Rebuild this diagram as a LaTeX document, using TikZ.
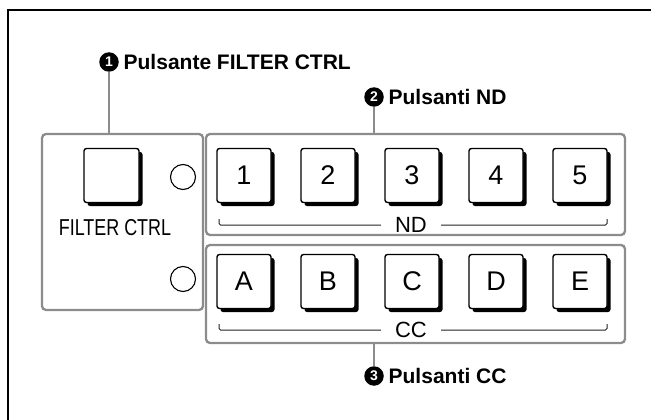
\documentclass[tikz,border=0pt]{standalone}
\usepackage{fontspec}
\setmainfont{Liberation Sans}
\newfontfamily\narrowfont[FakeStretch=0.78]{Liberation Sans}
\usepackage{tikz}
\usetikzlibrary{positioning,shadows}
\definecolor{pgray}{HTML}{8C8C8C}
\definecolor{pline}{HTML}{222222}
\tikzset{
  panel/.style={draw=pgray, line width=2.3pt, rounded corners=4pt, inner sep=0pt},
  key/.style={draw=black, fill=white, line width=1.4pt, rounded corners=2.5pt, inner sep=0pt,
              minimum width=54pt, minimum height=54pt, font=\fontsize{27}{27}\selectfont,
              general shadow={fill=black, shadow xshift=3.5pt, shadow yshift=-3.5pt}},
  lamp/.style={circle, draw=black, line width=1.1pt, minimum size=25pt, inner sep=0pt},
  grp/.style={fill=white, inner xsep=14pt, inner ysep=0pt, font=\fontsize{22}{22}\selectfont},
  bracket/.style={draw=pline, line width=1pt, rounded corners=1.5pt},
  num/.style={circle, fill=black, text=white, inner sep=0pt, minimum size=19.5pt,
              font=\bfseries\fontsize{14}{14}\selectfont},
  call/.style={inner sep=0pt, font=\bfseries\fontsize{21}{21}\selectfont},
  leader/.style={draw=pgray, line width=2.3pt},
  frame/.style={draw=black, line width=2pt},
}
\begin{document}
\begin{tikzpicture}[x=1pt, y=-1pt]
  \useasboundingbox (0,0) rectangle (651,420);
  \draw[frame] (651,10.5) -| (7.5,420);

  \node[panel, minimum width=161pt, minimum height=176pt] (ctrlpanel) at (122.5,222) {};
  \node[panel, minimum width=419pt, minimum height=101pt] (ndpanel) at (415.5,184.5) {};
  \node[panel, minimum width=419pt, minimum height=98pt] (ccpanel) at (415.5,294) {};

  \node[key, minimum width=55pt] (fc) at (111.5,175.5) {};
  \node[font=\narrowfont\fontsize{23}{23}\selectfont, inner sep=0pt] (fclbl) at (115,228) {FILTER CTRL};
  \node[lamp] (ndlamp) at (183,177) {};
  \node[lamp] (cclamp) at (183,279) {};

  \foreach \k [count=\i] in {1,...,5}
    \node[key] (nd\i) at ({160+84*\i},175.5) {\k};
  \foreach \k [count=\i] in {A,B,C,D,E}
    \node[key] (cc\i) at ({160+84*\i},281.5) {\k};

  \coordinate (ndl) at (219,219);
  \coordinate (ndr) at (607,219);
  \coordinate (ccl) at (219,324);
  \coordinate (ccr) at (607,324);
  \node[grp] (ndlbl) at (411,225) {ND};
  \node[grp] (cclbl) at (411,330) {CC};
  \draw[bracket] (ndlbl) -| (ndl);
  \draw[bracket] (ndlbl) -| (ndr);
  \draw[bracket] (cclbl) -| (ccl);
  \draw[bracket] (cclbl) -| (ccr);

  \node[num] (n1) at (109,62) {1};
  \node[call, right=4.5pt of n1] (c1) {Pulsante FILTER CTRL};
  \node[num] (n2) at (374,97) {2};
  \node[call, right=4.5pt of n2] (c2) {Pulsanti ND};
  \node[num] (n3) at (374,376) {3};
  \node[call, right=4.5pt of n3] (c3) {Pulsanti CC};

  \draw[leader] (n1) -- (n1 |- ctrlpanel.north);
  \draw[leader] (n2) -- (n2 |- ndpanel.north);
  \draw[leader] (n3) -- (n3 |- ccpanel.south);
\end{tikzpicture}
\end{document}
